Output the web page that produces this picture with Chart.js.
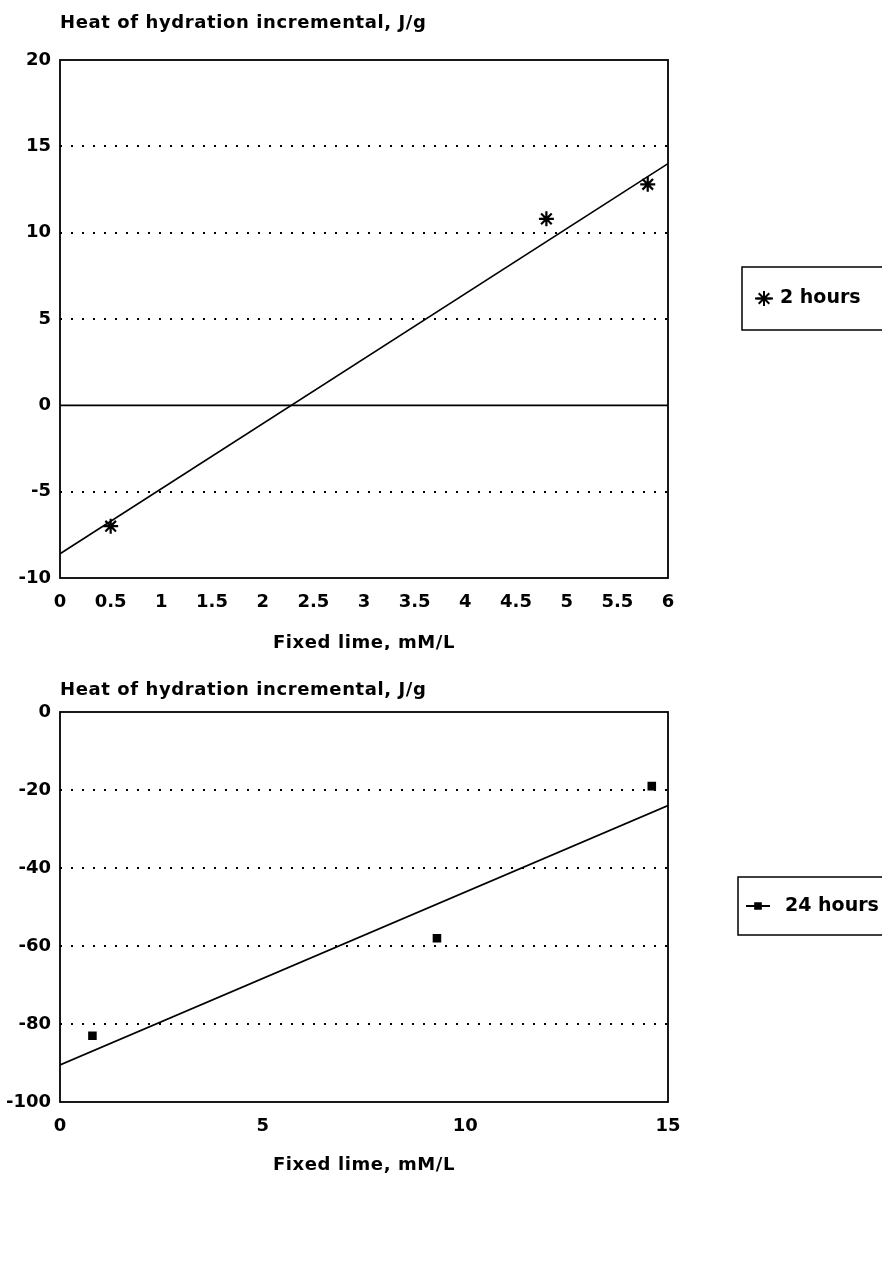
<!DOCTYPE html>
<html>
<head>
<meta charset="utf-8">
<script src="https://cdn.jsdelivr.net/npm/chart.js@4.4.1/dist/chart.umd.min.js"></script>
<style>
  html, body { margin: 0; padding: 0; background: #fff; }
  .panel { position: absolute; left: 0; width: 882px; }
  #top-panel { top: 0; height: 650px; }
  #bottom-panel { top: 650px; height: 617px; }
</style>
</head>
<body>
<div class="panel" id="top-panel"><canvas id="chart2h"></canvas></div>
<div class="panel" id="bottom-panel"><canvas id="chart24h"></canvas></div>
<script>
// 2 hours panel
const lime2h = [0.5, 4.8, 5.8];
const heat2h = [-7.0, 10.8, 12.8];
const fitLime2h = [0, 6];
const fitHeat2h = [-8.6, 14.0];
const xTicks2h = [0, 0.5, 1, 1.5, 2, 2.5, 3, 3.5, 4, 4.5, 5, 5.5, 6];
const yTicks2h = [-10, -5, 0, 5, 10, 15, 20];

// 24 hours panel
const lime24h = [0.8, 9.3, 14.6];
const heat24h = [-83, -58, -19];
const fitLime24h = [0, 15];
const fitHeat24h = [-90.5, -24];
const xTicks24h = [0, 5, 10, 15];
const yTicks24h = [-100, -80, -60, -40, -20, 0];

const FONT = "'DejaVu Sans', sans-serif";
Chart.defaults.font.family = FONT;
Chart.defaults.color = "#000";

const decorations = {
  id: "decorations",
  beforeDatasetsDraw(chart, args, opts) {
    if (!opts.zeroLine) return;
    const { ctx, chartArea, scales } = chart;
    const y = scales.y.getPixelForValue(0);
    ctx.save();
    ctx.strokeStyle = "#000";
    ctx.lineWidth = 1.6;
    ctx.beginPath();
    ctx.moveTo(chartArea.left, y);
    ctx.lineTo(chartArea.right, y);
    ctx.stroke();
    ctx.restore();
  },
  afterDraw(chart, args, opts) {
    const { ctx, chartArea } = chart;
    ctx.save();
    ctx.strokeStyle = "#000";
    ctx.fillStyle = "#000";
    ctx.lineWidth = 1.8;
    ctx.strokeRect(chartArea.left, chartArea.top, chartArea.right - chartArea.left, chartArea.bottom - chartArea.top);

    ctx.font = "bold 18px " + FONT;
    ctx.letterSpacing = "0.6px";
    ctx.textBaseline = "middle";
    ctx.textAlign = "left";
    ctx.fillText(opts.yTitle, chartArea.left, opts.yTitleY);
    ctx.textAlign = "center";
    ctx.fillText(opts.xTitle, (chartArea.left + chartArea.right) / 2, opts.xTitleY);

    // legend box
    const lg = opts.legend;
    ctx.lineWidth = 1.5;
    ctx.strokeRect(lg.x, lg.y, lg.w, lg.h);
    const cy = lg.y + lg.h / 2;
    ctx.lineWidth = 2;
    ctx.beginPath();
    ctx.moveTo(lg.symbolX - lg.lineHalf, cy);
    ctx.lineTo(lg.symbolX + lg.lineHalf, cy);
    ctx.stroke();
    Chart.helpers.drawPoint(ctx, {
      pointStyle: lg.pointStyle,
      radius: lg.radius,
      borderWidth: 2,
      rotation: 0,
    }, lg.symbolX, cy);
    ctx.font = "bold 19px " + FONT;
    ctx.letterSpacing = "0px";
    ctx.textAlign = "left";
    ctx.fillText(lg.text, lg.textX, cy);
    ctx.restore();
  },
};

function buildChart(canvasId, cfg) {
  const ctx = document.getElementById(canvasId);
  return new Chart(ctx, {
    type: "scatter",
    data: {
      datasets: [
        {
          label: cfg.label,
          data: cfg.x.map((v, i) => ({ x: v, y: cfg.y[i] })),
          pointStyle: cfg.pointStyle,
          pointRadius: cfg.pointRadius,
          pointBorderWidth: 2.2,
          pointBackgroundColor: "#000",
          pointBorderColor: "#000",
          showLine: false,
        },
        {
          label: "fit",
          data: cfg.fitX.map((v, i) => ({ x: v, y: cfg.fitY[i] })),
          showLine: true,
          pointRadius: 0,
          borderColor: "#000",
          borderWidth: 1.7,
        },
      ],
    },
    options: {
      responsive: true,
      maintainAspectRatio: false,
      animation: false,
      layout: {
        padding: { top: cfg.plotTop, left: 0, right: 214, bottom: 0 },
      },
      plugins: {
        legend: { display: false },
        tooltip: { enabled: false },
        decorations: cfg.decor,
      },
      scales: {
        x: {
          type: "linear",
          min: cfg.xTicks[0],
          max: cfg.xTicks[cfg.xTicks.length - 1],
          afterBuildTicks: (axis) => {
            axis.ticks = cfg.xTicks.map((v) => ({ value: v }));
          },
          afterFit: (axis) => {
            axis.height = cfg.xAxisHeight;
          },
          grid: { display: false, drawTicks: false },
          border: { display: false },
          ticks: {
            padding: 14,
            font: { size: 18, weight: "bold" },
            maxRotation: 0,
            autoSkip: false,
            callback: (v) => String(v),
          },
        },
        y: {
          type: "linear",
          min: cfg.yTicks[0],
          max: cfg.yTicks[cfg.yTicks.length - 1],
          afterBuildTicks: (axis) => {
            axis.ticks = cfg.yTicks.map((v) => ({ value: v }));
          },
          afterFit: (axis) => {
            axis.width = 60;
          },
          grid: {
            drawTicks: false,
            lineWidth: 2,
            color: (c) => (cfg.dotted.includes(c.tick.value) ? "#000" : "rgba(0,0,0,0)"),
          },
          border: { display: false, dash: [2, 9] },
          ticks: { padding: 9, font: { size: 18, weight: "bold" }, autoSkip: false, callback: (v) => String(v) },
        },
      },
    },
    plugins: [decorations],
  });
}

buildChart("chart2h", {
  label: "2 hours",
  x: lime2h,
  y: heat2h,
  fitX: fitLime2h,
  fitY: fitHeat2h,
  xTicks: xTicks2h,
  yTicks: yTicks2h,
  dotted: [-5, 5, 10, 15],
  pointStyle: "star",
  pointRadius: 7.5,
  plotTop: 60,
  xAxisHeight: 72,
  decor: {
    zeroLine: true,
    yTitle: "Heat of hydration incremental, J/g",
    yTitleY: 23,
    xTitle: "Fixed lime, mM/L",
    xTitleY: 643,
    legend: { x: 742, y: 267, w: 160, h: 63, symbolX: 764, lineHalf: 9, textX: 780, text: "2 hours", pointStyle: "star", radius: 7.5 },
  },
});

buildChart("chart24h", {
  label: "24 hours",
  x: lime24h,
  y: heat24h,
  fitX: fitLime24h,
  fitY: fitHeat24h,
  xTicks: xTicks24h,
  yTicks: yTicks24h,
  dotted: [-80, -60, -40, -20],
  pointStyle: "rect",
  pointRadius: 4.5,
  plotTop: 62,
  xAxisHeight: 165,
  decor: {
    zeroLine: false,
    yTitle: "Heat of hydration incremental, J/g",
    yTitleY: 40,
    xTitle: "Fixed lime, mM/L",
    xTitleY: 515,
    legend: { x: 738, y: 227, w: 165, h: 58, symbolX: 758, lineHalf: 12, textX: 785, text: "24 hours", pointStyle: "rect", radius: 4 },
  },
});
</script>
</body>
</html>
